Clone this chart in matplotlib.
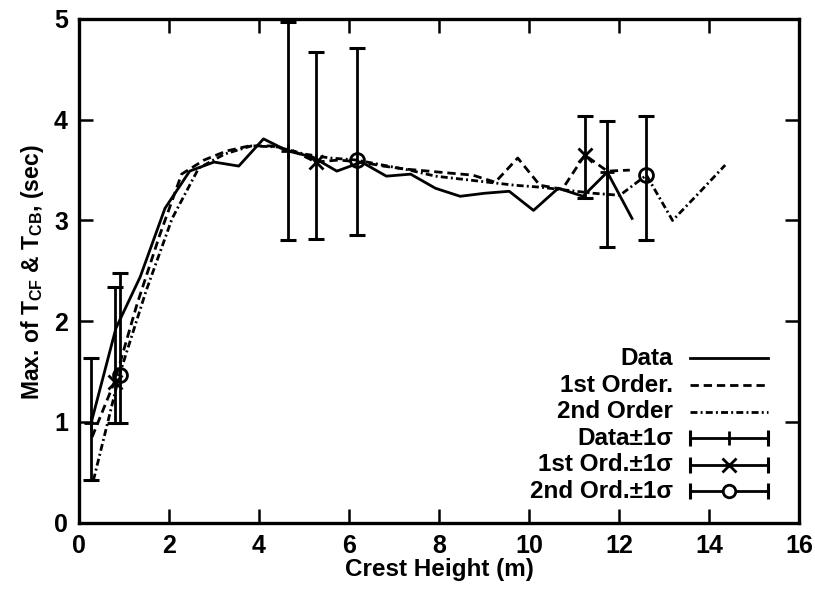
import matplotlib
matplotlib.use('Agg')
import matplotlib.pyplot as plt

plt.rcParams['font.family'] = ['Liberation Sans', 'DejaVu Sans']
plt.rcParams['font.weight'] = 'bold'
plt.rcParams['mathtext.fontset'] = 'custom'
plt.rcParams['mathtext.rm'] = 'Liberation Sans:bold'
plt.rcParams['mathtext.it'] = 'Liberation Sans:bold'
plt.rcParams['mathtext.bf'] = 'Liberation Sans:bold'
plt.rcParams['mathtext.default'] = 'rm'
plt.rcParams['lines.scale_dashes'] = False

# ---- data ----
data_x = [0.27, 0.82, 1.36, 1.91, 2.46, 3.00, 3.55, 4.10, 4.64, 5.19, 5.73, 6.28,
          6.83, 7.37, 7.92, 8.47, 9.01, 9.56, 10.10, 10.65, 11.20, 11.74, 12.29]
data_y = [0.99, 1.93, 2.44, 3.12, 3.49, 3.58, 3.54, 3.81, 3.69, 3.63, 3.49, 3.58,
          3.44, 3.46, 3.32, 3.24, 3.27, 3.29, 3.10, 3.32, 3.24, 3.48, 3.02]

ord1_x = [0.29, 0.79, 1.29, 1.79, 2.28, 2.78, 3.28, 3.78, 4.27, 4.77, 5.26, 5.77, 6.26,
          6.76, 7.26, 7.76, 8.25, 8.75, 9.25, 9.75, 10.24, 10.74, 11.24, 11.74, 12.24]
ord1_y = [0.85, 1.40, 2.17, 2.85, 3.46, 3.60, 3.69, 3.74, 3.74, 3.69, 3.58, 3.60, 3.58,
          3.54, 3.51, 3.49, 3.47, 3.45, 3.38, 3.62, 3.35, 3.31, 3.65, 3.49, 3.50]

ord2_x = [0.32, 0.90, 1.49, 2.07, 2.66, 3.24, 3.83, 4.41, 5.00, 5.58, 6.17, 6.75, 7.34,
          7.92, 8.51, 9.09, 9.68, 10.26, 10.85, 11.43, 12.02, 12.61, 13.19, 13.77, 14.36]
ord2_y = [0.42, 1.47, 2.30, 3.02, 3.52, 3.66, 3.74, 3.73, 3.66, 3.62, 3.60, 3.55, 3.50,
          3.44, 3.41, 3.38, 3.35, 3.33, 3.30, 3.27, 3.25, 3.45, 3.00, 3.27, 3.55]

# error bars: centre, lower end, upper end
err_data_x = [0.27, 4.64, 11.74]
err_data_y = [0.99, 3.69, 3.48]
err_data_lo = [0.42, 2.81, 2.74]
err_data_hi = [1.63, 4.97, 3.99]

err1_x = [0.79, 5.26, 11.24]
err1_y = [1.40, 3.58, 3.65]
err1_lo = [0.99, 2.82, 3.22]
err1_hi = [2.34, 4.67, 4.04]

err2_x = [0.90, 6.17, 12.61]
err2_y = [1.47, 3.60, 3.45]
err2_lo = [0.99, 2.86, 2.81]
err2_hi = [2.48, 4.71, 4.04]

legend_labels = ['Data', '1st Order.', '2nd Order', 'Data±1σ', '1st Ord.±1σ', '2nd Ord.±1σ']
x_ticks = [0, 2, 4, 6, 8, 10, 12, 14, 16]
y_ticks = [0, 1, 2, 3, 4, 5]

# ---- figure ----
W, H = 815, 589
fig = plt.figure(figsize=(W / 100, H / 100), dpi=100)
ax = fig.add_axes([79 / W, 1 - 522.7 / H, 720 / W, 503.7 / H])

LW = 2.0
DASH = (0, (6, 3.5))
DASHDOT = (0, (5, 2.3, 1.4, 2.3))

ax.plot(data_x, data_y, color='k', lw=LW, ls='-')
ax.plot(ord1_x, ord1_y, color='k', lw=LW, ls=DASH)
ax.plot(ord2_x, ord2_y, color='k', lw=LW, ls=DASHDOT)


def errbars(x, y, lo, hi, marker, ms):
    yerr = [[yi - l for yi, l in zip(y, lo)], [h - yi for yi, h in zip(y, hi)]]
    ax.errorbar(x, y, yerr=yerr, fmt='none', ecolor='k', elinewidth=2.0,
                capsize=5.5, capthick=2.2, clip_on=False)
    ax.plot(x, y, ls='none', marker=marker, ms=ms, mec='k', mfc='none', mew=2.0)


errbars(err_data_x, err_data_y, err_data_lo, err_data_hi, '+', 10)
errbars(err1_x, err1_y, err1_lo, err1_hi, 'x', 10)
errbars(err2_x, err2_y, err2_lo, err2_hi, 'o', 10)

ax.set_xlim(0, 16)
ax.set_ylim(0, 5)
ax.set_xticks(x_ticks)
ax.set_yticks(y_ticks)
ax.tick_params(direction='in', length=10, width=1.8, top=True, right=True,
               labelsize=18, pad=8)
for s in ax.spines.values():
    s.set_linewidth(2.4)

ax.set_xlabel('Crest Height (m)', fontsize=17.5, fontweight='bold')
ax.xaxis.set_label_coords(0.501, -0.071)
ax.set_ylabel(r'Max. of T$_{\mathrm{CF}}$ & T$_{\mathrm{CB}}$, (sec)', fontsize=16.5,
              fontweight='bold')
ax.yaxis.set_label_coords(-0.046, 0.498)

# ---- legend (gnuplot style: text right-aligned, sample on the right) ----
tx = 0.825
sx0, sx1 = 0.849, 0.957
sxm = (sx0 + sx1) / 2
row_y = [0.326, 0.273, 0.220, 0.168, 0.115, 0.062]
styles = ['-', DASH, DASHDOT]
for i, lab in enumerate(legend_labels):
    yy = row_y[i]
    ax.text(tx, yy, lab, transform=ax.transAxes, ha='right', va='center',
            fontsize=17.5, fontweight='bold')
    if i < 3:
        ax.plot([sx0, sx1], [yy, yy], transform=ax.transAxes, color='k', lw=LW,
                ls=styles[i], clip_on=False)
    else:
        ax.plot([sx0, sx1], [yy, yy], transform=ax.transAxes, color='k', lw=2.0,
                clip_on=False)
        ax.plot([sx0, sx1], [yy, yy], transform=ax.transAxes, ls='none', marker='|',
                ms=11, mew=2.2, color='k', clip_on=False)
        mk, ms = [('|', 10), ('x', 10), ('o', 9)][i - 3]
        ax.plot([sxm], [yy], transform=ax.transAxes, ls='none', marker=mk, ms=ms,
                mew=2.0, mec='k', mfc='white', clip_on=False)

fig.savefig('out.png', dpi=100)
